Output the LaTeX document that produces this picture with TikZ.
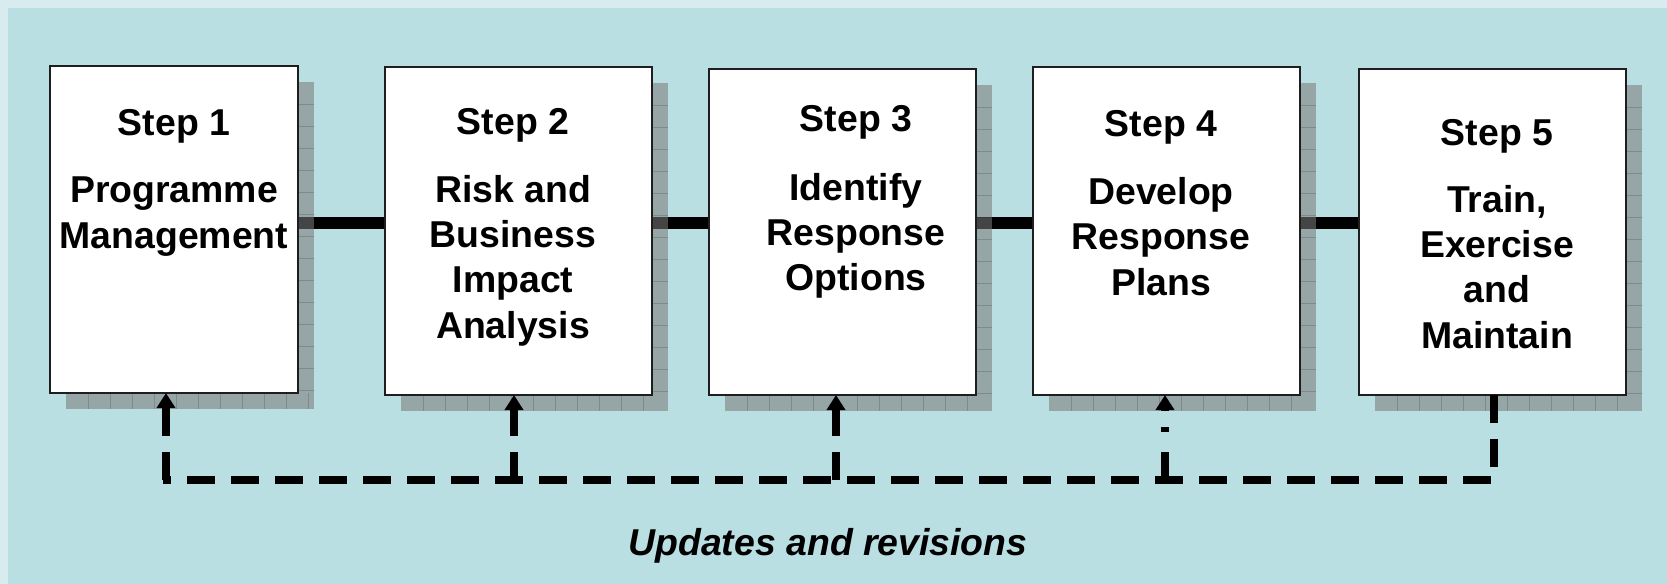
\documentclass[tikz,border=0pt]{standalone}
\usepackage{fontspec}
\setmainfont{Liberation Sans}
\usetikzlibrary{arrows.meta,calc}
\definecolor{framec}{RGB}{216,236,240}
\definecolor{tealc}{RGB}{186,223,227}
\definecolor{shadec}{RGB}{123,123,123}
\definecolor{boxline}{RGB}{30,30,30}
\pgfdeclarelayer{bg}
\pgfsetlayers{bg,main}
\begin{document}
\begin{tikzpicture}[x=0.5pt,y=-0.5pt,
  box/.style={draw=boxline,line width=1pt,fill=white,inner sep=0pt,outer sep=0pt,
              minimum width=133.5pt,minimum height=164pt},
  steptxt/.style={font=\fontsize{18.7pt}{22.7pt}\selectfont\bfseries,inner sep=0pt,anchor=base},
  titletxt/.style={steptxt,align=center,anchor=north},
  conn/.style={line width=6pt,black},
  shadowbox/.style={fill=shadec,fill opacity=0.57},
  gridln/.style={draw=black,draw opacity=0.16,line width=0.5pt},
  fb/.style={line width=4pt,dash pattern=on 14pt off 8pt},
  fbarrow/.style={fb,-{Triangle[width=9pt,length=7.5pt]}}]
\useasboundingbox (0,0) rectangle (1667,584);

% boxes
\node[box,minimum width=124pt,minimum height=163.5pt] (b1) at (174,229.5) {};
\node[box] (b2) at (518.5,231) {};
\node[box,minimum height=163pt] (b3) at (842.5,232) {};
\node[box] (b4) at (1166.5,231) {};
\node[box,minimum height=163pt] (b5) at (1492.5,232) {};

% texts
\node[steptxt] (s1) at (174,135) {Step 1};
\node[titletxt] (t1) at (174,176.5) {Programme\\Management};
\node[steptxt] (s2) at (513,134) {Step 2};
\node[titletxt] (t2) at (513,174.5) {Risk and\\Business\\Impact\\Analysis};
\node[steptxt] (s3) at (856,131.5) {Step 3};
\node[titletxt] (t3) at (856,172.5) {Identify\\Response\\Options};
\node[steptxt] (s4) at (1161,136.5) {Step 4};
\node[titletxt] (t4) at (1161,177) {Develop\\Response\\Plans};
\node[steptxt] (s5) at (1497,145.5) {Step 5};
\node[titletxt] (t5) at (1497,184.5) {Train,\\Exercise\\and\\Maintain};

\node[steptxt,font=\fontsize{18.7pt}{22.7pt}\selectfont\bfseries\itshape] (cap) at (828,555) {Updates and revisions};

\begin{pgfonlayer}{bg}
  \fill[framec] (0,0) rectangle (1667,584);
  \fill[tealc] (8,8) rectangle (1667,584);
  \coordinate (cy) at (0,223);
  \draw[conn] (b1.east |- cy) -- (b2.west |- cy);
  \draw[conn] (b2.east |- cy) -- (b3.west |- cy);
  \draw[conn] (b3.east |- cy) -- (b4.west |- cy);
  \draw[conn] (b4.east |- cy) -- (b5.west |- cy);
  \foreach \b in {b1,b2,b3,b4,b5}{
    \fill[shadowbox] ([shift={(16,16)}]\b.north west) rectangle ([shift={(16,16)}]\b.south east);
    \foreach \k in {1,...,14}
      \draw[gridln] ([shift={(0,16+22*\k)}]\b.north east) -- ++(16,0);
    \foreach \k in {1,...,11}
      \draw[gridln] ([shift={(16+22*\k,0)}]\b.south west) -- ++(0,16);
  }
\end{pgfonlayer}

% feedback loop
\coordinate (fL) at (163,480);
\coordinate (fR) at (1494,480);
\coordinate (f1) at (166,480);
\coordinate (f2) at (514,480);
\coordinate (f3) at (836,480);
\coordinate (f4) at (1165,480);
\draw[fb] (b5.south -| fR) -- (fR) -- (fL);
\draw[fbarrow] (f1) -- (f1 |- b1.south);
\draw[fbarrow] (f2) -- (f2 |- b2.south);
\draw[fbarrow] (f3) -- (f3 |- b3.south);
\draw[fbarrow,dash pattern=on 14pt off 10pt on 2.5pt off 8pt] (f4) -- (f4 |- b4.south);
\end{tikzpicture}
\end{document}
